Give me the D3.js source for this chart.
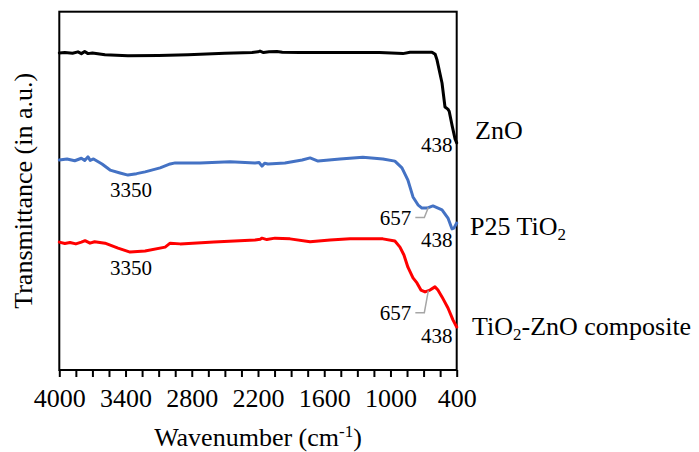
<!DOCTYPE html>
<html>
<head>
<meta charset="utf-8">
<script src="https://cdn.jsdelivr.net/npm/d3@7"></script>
<style>
  body { margin: 0; background: #fff; }
  svg { display: block; }
  svg text { font-family: "Liberation Serif", "Times New Roman", "DejaVu Serif", serif; fill: #000; }
</style>
</head>
<body>
<div id="chart"></div>
<script>
// Spectra: [wavenumber (cm-1), transmittance (a.u.)]
const znoSeries = [
  [4000, 88.5], [3950, 88.6], [3880, 88.4], [3831, 88.8], [3800, 88.3], [3770, 88.9],
  [3740, 88.3], [3700, 88.5], [3586, 88.0], [3378, 87.7], [3100, 87.8], [2834, 88.0],
  [2500, 88.4], [2254, 88.6], [2200, 88.8], [2182, 89.0], [2150, 88.6], [2100, 88.8],
  [2028, 88.9], [1980, 88.7], [1820, 88.6], [1400, 88.6], [1100, 88.6], [887, 88.3],
  [823, 88.7], [624, 88.7], [595, 88.1], [578, 86.5], [533, 80.1], [506, 73.4],
  [480, 72.8], [468, 72.2], [440, 68.0], [415, 64.5], [400, 63.4]
];
const p25Series = [
  [4000, 58.6], [3930, 58.9], [3860, 58.4], [3800, 59.1], [3770, 58.5], [3740, 59.5],
  [3720, 58.5], [3690, 58.9], [3613, 57.5], [3540, 55.8], [3450, 55.0], [3378, 54.4],
  [3300, 54.8], [3223, 55.3], [3087, 56.4], [2996, 57.5], [2950, 57.8], [2725, 57.8],
  [2453, 58.1], [2227, 57.8], [2190, 57.9], [2164, 56.9], [2140, 57.7], [2110, 57.5],
  [1956, 57.8], [1800, 58.6], [1728, 59.2], [1656, 58.3], [1457, 58.9], [1250, 59.4],
  [1069, 58.9], [960, 58.3], [896, 56.4], [842, 53.0], [796, 48.3], [751, 46.1],
  [715, 45.2], [669, 45.2], [615, 45.8], [533, 44.7], [479, 42.4], [443, 39.4],
  [425, 39.6], [400, 41.0]
];
const compositeSeries = [
  [4000, 35.7], [3950, 35.3], [3903, 35.6], [3850, 35.2], [3800, 35.7], [3767, 36.1],
  [3722, 35.4], [3680, 35.8], [3586, 35.4], [3468, 34.0], [3359, 32.9], [3223, 33.2],
  [3041, 34.3], [2996, 35.4], [2905, 35.2], [2600, 35.7], [2227, 36.3], [2180, 36.5],
  [2164, 36.8], [2120, 36.4], [2046, 36.8], [1910, 36.6], [1728, 35.8], [1547, 36.3],
  [1366, 36.6], [1069, 36.6], [960, 36.0], [914, 34.3], [878, 32.1], [842, 28.7],
  [796, 25.7], [760, 24.3], [724, 22.3], [687, 21.8], [642, 22.3], [597, 23.2],
  [570, 22.3], [533, 20.4], [479, 17.3], [434, 14.0], [400, 12.0]
];

const seriesNames = ["ZnO", "P25 TiO|2", "TiO|2|-ZnO composite"];
const seriesColors = ["#000000", "#4472C4", "#FF0000"];
const seriesData = [znoSeries, p25Series, compositeSeries];

const xTicks = [4000, 3400, 2800, 2200, 1600, 1000, 400];
// band annotations: [series index, wavenumber, label]
const peakLabels = [
  [0, 438, "438"], [1, 3350, "3350"], [1, 657, "657"], [1, 438, "438"],
  [2, 3350, "3350"], [2, 657, "657"], [2, 438, "438"]
];

const width = 699, height = 452;
const margin = { top: 11.7, right: 242.3, bottom: 82, left: 59.3 };

const x = d3.scaleLinear()
  .domain([4000, 400])
  .range([margin.left, width - margin.right]);
const y = d3.scaleLinear()
  .domain([0, 100])
  .range([height - margin.bottom, margin.top]);

const svg = d3.select("#chart").append("svg")
  .attr("width", width)
  .attr("height", height);

// value at a wavenumber, interpolated between read points
function valueAt(series, w) {
  for (let i = 0; i < series.length - 1; i++) {
    const a = series[i], b = series[i + 1];
    if (w <= a[0] && w >= b[0]) {
      const t = (a[0] - w) / (a[0] - b[0]);
      return a[1] + t * (b[1] - a[1]);
    }
  }
  return series[series.length - 1][1];
}

// x axis with ticks every 150 cm-1, labels every 600
const axisG = svg.append("g")
  .attr("transform", `translate(0,${y(0)})`)
  .call(d3.axisBottom(x)
    .tickValues(d3.range(4000, 399, -150))
    .tickSize(7)
    .tickFormat(d => xTicks.includes(d) ? d : ""));
axisG.attr("font-family", null);
axisG.select(".domain").remove();
axisG.selectAll(".tick line").attr("stroke", "#000").attr("stroke-width", 2);
axisG.selectAll(".tick text")
  .attr("y", 19)
  .attr("dy", "0.71em")
  .style("font-size", "26px");

// frame
svg.append("rect")
  .attr("x", x(4000))
  .attr("y", y(100))
  .attr("width", x(400) - x(4000))
  .attr("height", y(0) - y(100))
  .attr("fill", "none")
  .attr("stroke", "#000")
  .attr("stroke-width", 2);

const line = d3.line()
  .x(d => x(d[0]))
  .y(d => y(d[1]));

svg.append("g").selectAll("path")
  .data(seriesData)
  .join("path")
  .attr("d", line)
  .attr("fill", "none")
  .attr("stroke", (d, i) => seriesColors[i])
  .attr("stroke-width", 3)
  .attr("stroke-linejoin", "round")
  .attr("stroke-linecap", "round");

// peak annotations
const annoOffsets = {
  "0-438": 25, "1-3350": 22, "1-438": 18, "2-3350": 23, "2-438": 24,
  "1-657": 10, "2-657": 22
};
const annoG = svg.append("g")
  .style("font-size", "21px");
peakLabels.forEach(([si, w, label]) => {
  const px = x(w);
  const py = y(valueAt(seriesData[si], w));
  const off = annoOffsets[`${si}-${w}`];
  if (w === 657) {
    annoG.append("polyline")
      .attr("points", [[px, py], [px - 4, py + off], [px - 13, py + off]].join(" "))
      .attr("fill", "none")
      .attr("stroke", "#A6A6A6")
      .attr("stroke-width", 1.5);
    annoG.append("text")
      .attr("x", px - 17)
      .attr("y", py + off + 7)
      .attr("text-anchor", "end")
      .text(label);
  } else {
    annoG.append("text")
      .attr("x", px)
      .attr("y", py + off)
      .attr("text-anchor", w === 438 ? "end" : "middle")
      .text(label);
  }
});

// series labels on the right, "|" marks subscript
const nameY = [139, 235, 335];
const nameX = [475, 470, 472];
seriesNames.forEach((name, i) => {
  const t = svg.append("text")
    .attr("x", nameX[i])
    .attr("y", nameY[i])
    .style("font-size", "26px");
  name.split("|").forEach((part, k) => {
    if (k % 2 === 1) {
      t.append("tspan").attr("dy", 5).style("font-size", "17px").text(part);
    } else {
      t.append("tspan").attr("dy", k === 0 ? 0 : -5).text(part);
    }
  });
});

// axis titles
const xt = svg.append("text")
  .attr("x", (x(4000) + x(400)) / 2)
  .attr("y", 446)
  .attr("text-anchor", "middle")
  .style("font-size", "26px");
xt.append("tspan").text("Wavenumber (cm");
xt.append("tspan").attr("dy", -9).style("font-size", "17px").text("-1");
xt.append("tspan").attr("dy", 9).text(")");

svg.append("text")
  .attr("transform", `translate(32,${(y(0) + y(100)) / 2}) rotate(-90)`)
  .attr("text-anchor", "middle")
  .style("font-size", "26px")
  .text("Transmittance (in a.u.)");
</script>
</body>
</html>
